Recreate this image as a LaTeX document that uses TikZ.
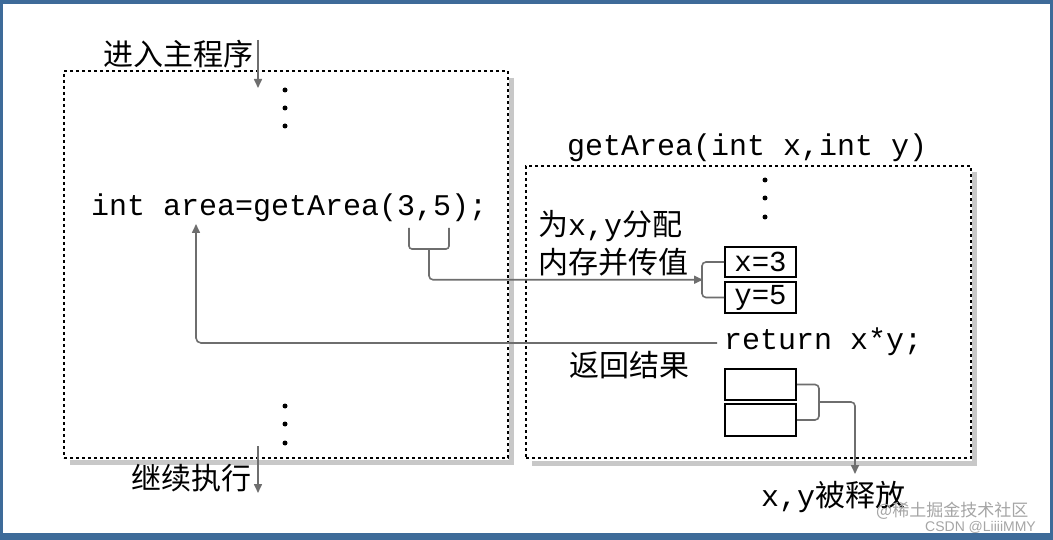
\documentclass[tikz,border=0pt]{standalone}
\usepackage{fontspec}
\setmainfont{Liberation Sans}
\newfontfamily\cjk{Noto Sans CJK SC}
\newfontfamily\mono{Liberation Mono}
\usetikzlibrary{arrows.meta}
\definecolor{frameblue}{RGB}{62,107,153}
\definecolor{shadowgray}{RGB}{200,200,200}
\definecolor{conngray}{RGB}{110,110,110}
\definecolor{wmgray}{RGB}{165,165,165}
\tikzset{
  dotbox/.style={draw=black, line width=2.6pt, dash pattern=on 3pt off 3pt},
  shade/.style={draw=shadowgray, line width=5pt},
  conn/.style={draw=conngray, line width=1.6pt},
  arr/.style={conn, -{Triangle[length=9pt,width=8pt]}},
  lbl/.style={inner sep=0pt, anchor=base west, font=\fontsize{30}{32}\selectfont},
  codetxt/.style={inner sep=0pt, anchor=base west, font=\mono\fontsize{30}{32}\selectfont},
  cell/.style={draw=black, line width=2pt, minimum width=71pt, inner sep=0pt, font=\mono\fontsize{29}{30}\selectfont},
  vdot/.style={fill=black, circle, inner sep=0pt, minimum size=5pt},
  wm/.style={inner sep=0pt, anchor=base west, text=wmgray}
}
\begin{document}
\begin{tikzpicture}[x=1pt,y=-1pt]
\useasboundingbox (0,0) rectangle (1053,540);
\fill[frameblue] (0,0) rectangle (1053,540);
\fill[white] (3,4) rectangle (1050,533);

% shadows
\draw[shade] (511.5,78) -- (511.5,462.5) -- (70,462.5);
\draw[shade] (974.5,172) -- (974.5,463.5) -- (532,463.5);

% frames
\node[dotbox, minimum width=444pt, minimum height=387pt, inner sep=0pt] (mainbox) at (286,264.5) {};
\node[dotbox, minimum width=445pt, minimum height=292pt, inner sep=0pt] (funcbox) at (748.5,312) {};

% texts
\node[lbl] (enter) at (103,66) {\cjk 进入主程序};
\node[codetxt] (call) at (91,216) {int area=getArea(3,5);};
\node[lbl] (cont) at (131,489) {\cjk 继续执行};
\node[codetxt] (func) at (567,156) {getArea(int x,int y)};
\node[lbl] (alloc1) at (538,236) {\cjk 为\mono x,y\cjk 分配};
\node[lbl] (alloc2) at (538,274) {\cjk 内存并传值};
\node[codetxt] (ret) at (724,349) {return x*y;};
\node[lbl] (result) at (569,376) {\cjk 返回结果};
\node[lbl] (release) at (761,506) {\mono x,y\cjk 被释放};

% dots
\foreach \i/\y in {1/90,2/108,3/126} \node[vdot] (dt\i) at (285,\y) {};
\foreach \i/\y in {1/406,2/424,3/443} \node[vdot] (db\i) at (285,\y) {};
\foreach \i/\y in {1/180,2/198,3/217} \node[vdot] (dr\i) at (765,\y) {};

% cells
\node[cell, minimum height=30pt] (cx) at (760.5,262) {x=3};
\node[cell, minimum height=31pt] (cy) at (760.5,297.5) {y=5};
\node[cell, minimum height=31pt] (e1) at (760.5,384.5) {};
\node[cell, minimum height=32pt] (e2) at (760.5,420) {};

% entry / exit arrows
\coordinate (inA) at (258,40);
\coordinate (inB) at (258,88);
\draw[arr] (inA) -- (inB);
\coordinate (outA) at (258,446);
\coordinate (outB) at (258,493);
\draw[arr] (outA) -- (outB);

% bracket under (3,5) and pass to x,y
\coordinate (brL) at (409,228);
\coordinate (brR) at (449,228);
\coordinate (brM) at (429,249);
\draw[conn, rounded corners=3pt] (brL) -- (409,249) -- (449,249) -- (brR);
\coordinate (braceTip) at (703,279.75);
\draw[arr, rounded corners=4pt] (brM) |- (braceTip);
\draw[conn, rounded corners=4pt] (cx.west) -- ++(-22,0) |- (cy.west);

% return path
\coordinate (retS) at (717,343);
\coordinate (areaT) at (196,224);
\draw[arr, rounded corners=5pt] (retS) -| (areaT);

% release brace
\draw[conn, rounded corners=4pt] (e1.east) -- ++(22,0) |- (e2.east);
\coordinate (relS) at (819,402);
\coordinate (relT) at (855,474);
\draw[arr, rounded corners=4pt] (relS) -| (relT);

% watermark
\node[wm, font=\cjk\fontsize{17}{18}\selectfont] (wm1) at (876,516) {@稀土掘金技术社区};
\node[wm, font=\fontsize{14}{16}\selectfont] (wm2) at (925,531) {CSDN @LiiiiMMY};
\end{tikzpicture}
\end{document}
